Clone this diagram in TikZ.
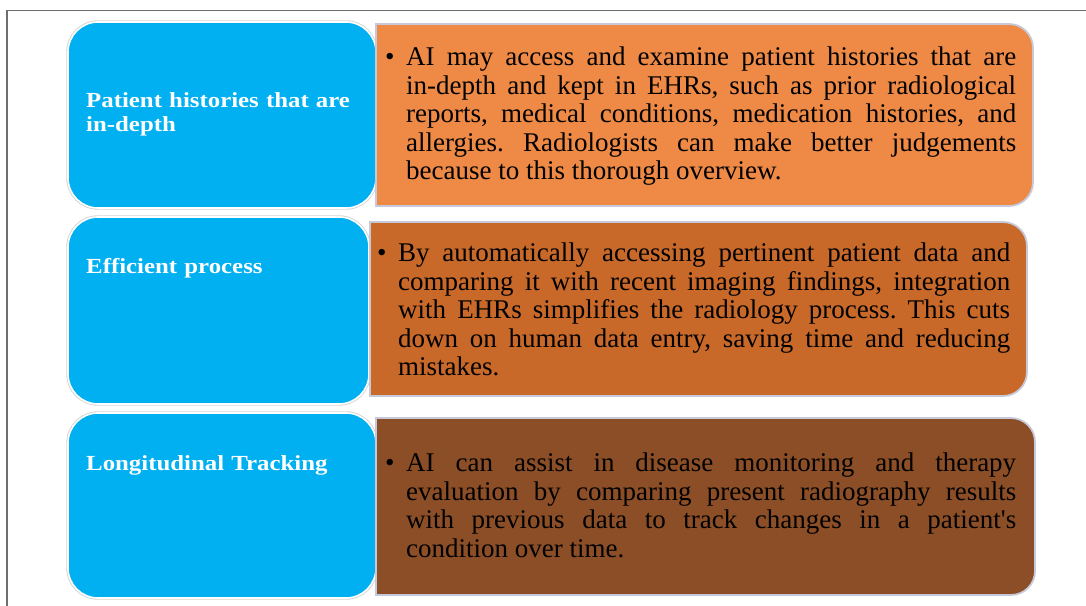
\documentclass[tikz,border=0pt]{standalone}
\usepackage{fontspec}
\setmainfont{Liberation Serif}
\newfontfamily\headfont{Liberation Serif}[FakeStretch=1.155]
\definecolor{cblue}{HTML}{00B0F0}
\definecolor{corA}{HTML}{EE8A46}
\definecolor{corB}{HTML}{C8692A}
\definecolor{corC}{HTML}{8C4E26}
\definecolor{cedge}{HTML}{C6C9DA}
\definecolor{cframe}{HTML}{6E6E6E}
\tikzset{
  bluebox/.style={fill=cblue, draw=white, line width=1.6pt, rounded corners=30pt,
    preaction={draw=black!17, line width=3.4pt}},
  obox/.style={draw=cedge, line width=1.8pt},
  head/.style={anchor=base west, inner sep=0pt, text=white, align=left, text width=285pt,
    font=\headfont\fontsize{21.5}{24}\selectfont\bfseries},
  body/.style={anchor=base west, inner sep=0pt, text=black, align=justify, text width=#1,
    font=\fontsize{27}{28.5}\selectfont,
    execute at begin node={\lineskiplimit=-30pt\lineskip=0pt\tolerance=10000
      \hyphenpenalty=10000\exhyphenpenalty=10000\hbadness=10000}},
  bul/.style={anchor=base west, inner sep=0pt, text=black, font=\fontsize{27}{28.5}\selectfont}
}
\begin{document}
\begin{tikzpicture}[x=1pt,y=1pt]
\useasboundingbox (0,0) rectangle (1086,605);
% frame
\coordinate (fa) at (7,-5);
\coordinate (fb) at (7,594.5);
\coordinate (fc) at (1095,594.5);
\draw[cframe, line width=1.8pt] (fa) -- (fb) -- (fc);
% blue boxes
\draw[bluebox] (68,397) rectangle (376,583);
\draw[bluebox] (68,201) rectangle (369,388);
\draw[bluebox] (68,7) rectangle (376,192);
% orange boxes
\path[obox, fill=corA] (376,581) -- (1009,581) arc[start angle=90,end angle=0,radius=24] -- (1033,423) arc[start angle=0,end angle=-90,radius=24] -- (376,399) -- cycle;
\path[obox, fill=corB] (370,383) -- (1003,383) arc[start angle=90,end angle=0,radius=24] -- (1027,233) arc[start angle=0,end angle=-90,radius=24] -- (370,209) -- cycle;
\path[obox, fill=corC] (376,187) -- (1011,187) arc[start angle=90,end angle=0,radius=24] -- (1035,34) arc[start angle=0,end angle=-90,radius=24] -- (376,10) -- cycle;
% headings
\node[head] (h1) at (86,497) {Patient histories that are\\in-depth};
\node[head] (h2) at (86,331) {Efficient process};
\node[head] (h3) at (86,135) {Longitudinal Tracking};
% bullets
\node[bul] (b1) at (385,539) {•};
\node[bul] (b2) at (377,343) {•};
\node[bul] (b3) at (385,133) {•};
% body texts
\node[body=610pt] (t1) at (406,539) {AI~may~access~and~examine~patient~histories~that~are\linebreak
in-depth~and~kept~in~EHRs,~such~as~prior~radiological\linebreak
reports,~medical~conditions,~medication~histories,~and\linebreak
allergies.~Radiologists~can~make~better~judgements\linebreak
because~to~this~thorough~overview.};
\node[body=612pt] (t2) at (398,343) {By~automatically~accessing~pertinent~patient~data~and\linebreak
comparing~it~with~recent~imaging~findings,~integration\linebreak
with~EHRs~simplifies~the~radiology~process.~This~cuts\linebreak
down~on~human~data~entry,~saving~time~and~reducing\linebreak
mistakes.};
\node[body=610pt] (t3) at (406,133) {AI~can~assist~in~disease~monitoring~and~therapy\linebreak
evaluation~by~comparing~present~radiography~results\linebreak
with~previous~data~to~track~changes~in~a~patient\textquotesingle s\linebreak
condition~over~time.};
\end{tikzpicture}
\end{document}
